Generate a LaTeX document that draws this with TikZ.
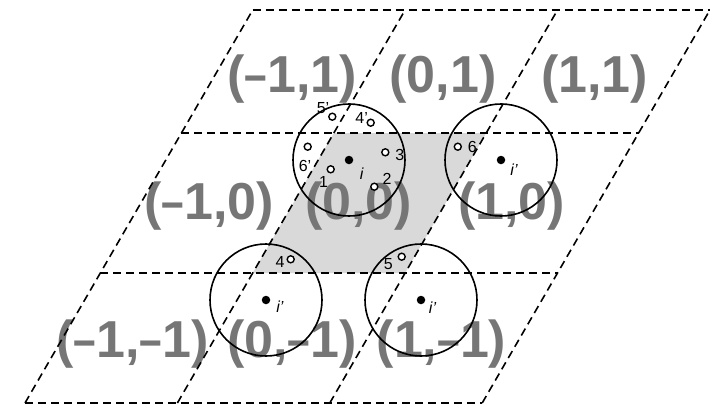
\documentclass[tikz,border=0pt]{standalone}
\usepackage{fontspec}
\setmainfont{Liberation Sans}
\usepackage{graphicx}
\definecolor{lab}{RGB}{118,118,118}
\definecolor{shade}{RGB}{217,217,217}
\newcommand{\mn}{\scalebox{0.78}[1]{–}}
\begin{document}
\begin{tikzpicture}[x=1pt,y=-1pt,
  gridline/.style={dash pattern=on 8pt off 5pt, line width=1.6pt},
  cellfill/.style={fill=shade},
  biglab/.style={font=\fontsize{52}{52}\selectfont\bfseries, text=lab, anchor=base, inner sep=0pt},
  cutoff/.style={draw, circle, line width=1.6pt, minimum size=112pt, inner sep=0pt},
  centerdot/.style={circle, fill=black, minimum size=8.5pt, inner sep=0pt},
  particle/.style={circle, draw, line width=1.4pt, fill=white, minimum size=7pt, inner sep=0pt},
  smlab/.style={font=\fontsize{16}{16}\selectfont, anchor=base, inner sep=0pt},
]
\useasboundingbox (0,0) rectangle (710,407);
% lattice corners
\foreach \j/\Y in {0/403,1/273,2/133,3/10} {
  \foreach \i in {0,...,3} {
    \coordinate (g-\i-\j) at ({25+152.4*\i+0.5794*(403-\Y)}, \Y);
  }
}
% shaded central cell
\fill[cellfill] (g-1-1) -- (g-2-1) -- (g-2-2) -- (g-1-2) -- cycle;
% cell labels
\node[biglab] (c-m1-1) at (292,92) {(\mn1,1)};
\node[biglab] (c-0-1) at (443,92) {(0,1)};
\node[biglab] (c-1-1) at (594.5,92) {(1,1)};
\node[biglab] (c-m1-0) at (209,219) {(\mn1,0)};
\node[biglab] (c-0-0) at (358.5,219) {(0,0)};
\node[biglab] (c-1-0) at (511.5,219) {(1,0)};
\node[biglab] (c-m1-m1) at (132.5,357) {(\mn1,\mn1)};
\node[biglab] (c-0-m1) at (292,357) {(0,\mn1)};
\node[biglab] (c-1-m1) at (441.5,357) {(1,\mn1)};
% dashed lattice
\foreach \j in {0,...,3} \draw[gridline] (g-0-\j) -- (g-3-\j);
\foreach \i in {0,...,3} \draw[gridline] (g-\i-0) -- (g-\i-3);
% cutoff circles
\node[cutoff] (k0) at (349,160) {};
\node[cutoff] (k1) at (501,160) {};
\node[cutoff] (k2) at (266,300) {};
\node[cutoff] (k3) at (421,300) {};
% central particles
\node[centerdot] (d0) at (349,160) {};
\node[centerdot] (d1) at (501,160) {};
\node[centerdot] (d2) at (266,300) {};
\node[centerdot] (d3) at (421,300) {};
% neighbour particles
\node[particle] (p1) at (330.7,169.3) {};
\node[particle] (p2) at (374.3,186.7) {};
\node[particle] (p3) at (385.3,152.3) {};
\node[particle] (p4a) at (370.7,122.7) {};
\node[particle] (p5a) at (332.3,116.7) {};
\node[particle] (p6a) at (307.7,146.7) {};
\node[particle] (p6) at (457.8,146.7) {};
\node[particle] (p4) at (290.7,259.3) {};
\node[particle] (p5) at (401.7,256.7) {};
% labels
\node[smlab] (t1) at (323.5,187.5) {1};
\node[smlab] (t2) at (387,184) {2};
\node[smlab] (t3) at (399.8,160.8) {3};
\node[smlab] (t4a) at (361.7,123.5) {4'};
\node[smlab] (t5a) at (323,113.5) {5'};
\node[smlab] (t6a) at (305,171.5) {6'};
\node[smlab] (t6) at (472.3,152.5) {6};
\node[smlab] (t4) at (280,267.5) {4};
\node[smlab] (t5) at (388.3,269) {5};
\node[smlab] (ti) at (361.7,179) {\itshape i};
\node[smlab] (ti1) at (514,175.5) {\itshape i'};
\node[smlab] (ti2) at (280,312) {\itshape i'};
\node[smlab] (ti3) at (432.5,313.5) {\itshape i'};
\end{tikzpicture}
\end{document}
